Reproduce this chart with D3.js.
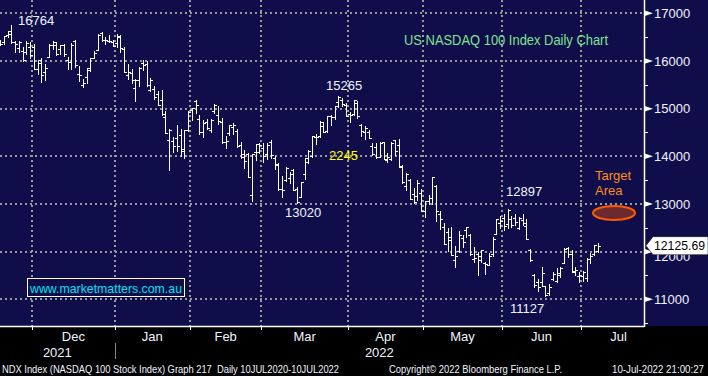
<!DOCTYPE html>
<html>
<head>
<meta charset="utf-8">
<title>US NASDAQ 100 Index Daily Chart</title>
<style>
  body { margin: 0; background: #000; }
  svg { display: block; }
  text { font-family: "Liberation Sans", Arial, sans-serif; }
</style>
</head>
<body>
<svg width="708" height="376"></svg>
<script src="https://cdn.jsdelivr.net/npm/d3@7"></script>
<script>
// trading calendar: 16 Nov 2021 .. end of Jul 2022 (data stops 8 Jul)
var firstDay = "2021-11-16", lastDay = "2022-07-29";
var holidays = ["2021-11-25", "2021-12-24", "2022-01-17", "2022-02-21",
                "2022-04-15", "2022-05-30", "2022-06-20", "2022-07-04"];

// daily OHLC (Nov 16 2021 -> Jul 8 2022)
var opens = [
  16290,16380,16400,16540,16620,16390,16280,16200,16180,16290,
  16290,15830,16010,15760,16090,16330,16340,16250,16330,16010,15980,16420,15720,15490,15660,15820,16070,16220,16580,16450,16420,16400,
  16380,16520,16250,15700,15750,15440,15600,15950,15940,15400,15420,15300,15180,14820,14340,14320,14390,14440,14160,14560,
  14970,15170,14780,14500,14720,14550,14940,14860,14720,14290,14490,14620,14530,14240,13990,14050,13180,14080,14100,
  14180,14040,14300,13960,13810,13310,13500,13540,13710,13310,13150,13620,13890,14010,14410,14420,14640,14530,14840,14820,15140,15190,15080,
  14880,14890,15110,14660,14500,14510,14220,14190,13990,14290,13920,13950,14340,14230,13770,13380,13510,13210,13170,13230,
  12850,13060,13120,13380,12790,12510,12410,12250,11830,12020,12280,12450,12340,11840,11940,11900,11760,11720,11940,12370,12600,
  12700,12570,12690,12710,12490,12660,12540,12030,11500,11360,11370,11270,11140,11430,11380,11560,11760,12080,11960,11580,11480,
  11480,11440,11850,11940,12020
];
var highs = [
  16420,16430,16530,16620,16764,16420,16420,16290,16420,16400,
  16360,16030,16060,15930,16350,16410,16390,16340,16360,16090,16370,16440,15900,15630,15860,16060,16210,16560,16610,16510,16540,16450,
  16573,16540,16300,15930,15830,15620,15870,16020,15990,15640,15480,15370,15390,14960,14580,14400,14660,14580,14560,14940,
  15010,15180,14860,14760,14790,14790,15090,15050,14810,14420,14660,14690,14570,14290,14140,14070,14050,14260,14280,
  14280,14270,14340,14000,13860,13580,13780,13680,13730,13360,13470,13960,14130,14430,14460,14740,14710,14850,14870,15050,15265,15230,15120,
  14930,15180,15150,14680,14640,14560,14270,14280,14310,14300,14060,14310,14340,14370,13820,13650,13530,13330,13500,13310,
  13070,13190,13560,13400,12850,12600,12500,12520,12120,12430,12350,12510,12380,12100,11990,12040,11780,11980,12300,12680,12740,
  12800,12897,12740,12800,12730,12780,12680,12060,11530,11420,11680,11280,11320,11580,11660,11680,12070,12100,12040,11680,11570,
  11590,11860,11970,12140,12190
];
var lows = [
  16270,16340,16350,16500,16380,16180,16190,16000,16140,16060,
  15830,15730,15560,15610,16080,16250,16130,16140,16110,15830,15830,15880,15570,15450,15530,15800,16060,16220,16420,16360,16400,16320,
  16300,16180,15770,15620,15540,15170,15480,15810,15470,15380,15200,15070,14870,14480,13723,14080,14110,14000,13960,14540,
  14760,14900,14470,14410,14570,14500,14910,14670,14270,14180,14440,14470,14200,13960,13760,13560,13060,13920,14060,
  13880,13940,13960,13730,13300,13150,13480,13430,13290,13020,13140,13520,13850,13990,14250,14410,14500,14510,14660,14780,15040,15060,14840,
  14710,14870,14800,14420,14360,14380,14030,13960,13980,13940,13870,13930,14030,13770,13440,13300,13100,13010,13080,12850,
  12730,12990,12990,12640,12470,12150,12010,11920,11680,12000,12100,12310,11930,11790,11510,11790,11530,11710,11900,12360,12500,
  12460,12490,12510,12550,12480,12560,12260,11810,11250,11180,11280,11060,11100,11400,11370,11460,11760,11890,11580,11520,11360,
  11380,11390,11760,11930,12000
];
var closes = [
  16363,16360,16517,16573,16393,16348,16406,16025,16383,16135,
  15834,15967,15712,15857,16331,16397,16136,16331,16142,15970,16333,15923,15703,15546,15855,16056,16170,16553,16441,16430,16410,16320,
  16501,16280,15771,15765,15592,15594,15854,15906,15500,15611,15240,15080,14888,14492,14560,14217,14209,14113,14555,14930,
  15005,15077,14501,14698,14604,14769,15080,14736,14291,14317,14652,14656,14212,14040,13901,13563,14043,14251,14237,
  14005,14243,14029,13838,13319,13285,13757,13622,13301,13047,13458,13954,14119,14420,14408,14712,14508,14840,14830,15049,15239,15087,14839,
  14862,15176,14842,14525,14587,14393,14045,13993,14286,13947,13976,14284,14114,13799,13453,13636,13106,13045,13448,12855,
  13061,13118,13559,12853,12695,12162,12306,11937,11907,12358,12206,12508,11945,11877,11835,12030,11745,11911,12257,12681,12643,
  12547,12866,12558,12613,12700,12604,12269,11822,11291,11264,11542,11099,11265,11529,11510,11664,12061,11951,11588,11605,11504,
  11583,11845,11907,12130,12126
];
var lastPrice = 12125.69;

var majorTicks = [11000, 12000, 13000, 14000, 15000, 16000, 17000];
var minorTicks = [10500, 11500, 12500, 13500, 14500, 15500, 16500];
var monthNames = ["Jan","Feb","Mar","Apr","May","Jun","Jul","Aug","Sep","Oct","Nov","Dec"];

// hand-placed price annotations
var peakLabels = [
  { text: "16764", x: 18, y: 20 },
  { text: "15265", x: 326, y: 85 },
  { text: "13020", x: 285, y: 212 },
  { text: "12897", x: 506, y: 191 },
  { text: "11127", x: 510, y: 308 }
];

var W = 708, H = 376, plotR = 644, plotB = 326;
var svg = d3.select("svg");

var fmt = d3.timeFormat("%Y-%m-%d");
var days = d3.timeDay.range(new Date(firstDay + "T00:00"), d3.timeDay.offset(new Date(lastDay + "T00:00"), 1))
  .filter(function(d) { return d.getDay() !== 0 && d.getDay() !== 6 && holidays.indexOf(fmt(d)) < 0; });

var data = closes.map(function(c, i) {
  return { i: i, date: days[i], o: opens[i], h: highs[i], l: lows[i], c: c };
});

// month boundaries (index of first trading day in each month)
var bounds = [];
days.forEach(function(d, i) {
  if (i > 0 && d.getMonth() !== days[i - 1].getMonth()) bounds.push(i);
});
bounds.push(days.length);

var x = d3.scaleLinear().domain([9.5, 155.5]).range([32, 581]);
var y = d3.scaleLinear().domain([10440, 17279]).range([plotB, 0]);

// backgrounds
svg.append("rect").attr("width", W).attr("height", H).attr("fill", "#000");
svg.append("rect").attr("width", W).attr("height", plotB).attr("fill", "#100e4a");

svg.append("clipPath").attr("id", "clip")
  .append("rect").attr("width", plotR).attr("height", plotB);

// grid
var grid = svg.append("g").attr("stroke", "#9a9a9a").attr("stroke-width", 2)
  .attr("stroke-dasharray", "2 3");
grid.selectAll("line.h").data(majorTicks).enter().append("line")
  .attr("x1", 0).attr("x2", plotR)
  .attr("y1", function(d) { return Math.round(y(d)); })
  .attr("y2", function(d) { return Math.round(y(d)); });
grid.selectAll("line.v").data(bounds.slice(0, -1)).enter().append("line")
  .attr("y1", 0).attr("y2", plotB)
  .attr("x1", function(d) { return Math.round(x(d - 0.5)); })
  .attr("x2", function(d) { return Math.round(x(d - 0.5)); });

// OHLC bars
var bars = svg.append("g").attr("clip-path", "url(#clip)")
  .attr("stroke", "#fff").attr("stroke-width", 1).attr("fill", "none");
var bar = bars.selectAll("g").data(data).enter().append("g");
function px(d) { return Math.round(x(d.i)) + 0.5; }
function py(v) { return Math.round(y(v)) + 0.5; }
bar.append("line")
  .attr("x1", px).attr("x2", px)
  .attr("y1", function(d) { return py(d.h) - 0.5; })
  .attr("y2", function(d) { return py(d.l) + 0.5; });
bar.append("line")
  .attr("x1", function(d) { return px(d) - 2.5; }).attr("x2", px)
  .attr("y1", function(d) { return py(d.o); }).attr("y2", function(d) { return py(d.o); });
bar.append("line")
  .attr("x1", px).attr("x2", function(d) { return px(d) + 2.5; })
  .attr("y1", function(d) { return py(d.c); }).attr("y2", function(d) { return py(d.c); });

// axis frame
svg.append("line").attr("x1", plotR + 0.5).attr("x2", plotR + 0.5).attr("y1", 0).attr("y2", plotB + 1)
  .attr("stroke", "#fff").attr("stroke-width", 1.5);
svg.append("line").attr("x1", 0).attr("x2", plotR).attr("y1", plotB + 0.5).attr("y2", plotB + 0.5)
  .attr("stroke", "#fff").attr("stroke-width", 1.5);

// right axis
var ax = svg.append("g");
ax.selectAll("path.tri").data(majorTicks).enter().append("path")
  .attr("fill", "#fff")
  .attr("d", function(d) {
    var yy = y(d);
    return "M" + plotR + "," + (yy - 3) + "L" + (plotR + 9) + "," + yy + "L" + plotR + "," + (yy + 3) + "Z";
  });
ax.selectAll("line.minor").data(minorTicks).enter().append("line")
  .attr("stroke", "#fff")
  .attr("x1", plotR).attr("x2", plotR + 4)
  .attr("y1", function(d) { return Math.round(y(d)) + 0.5; })
  .attr("y2", function(d) { return Math.round(y(d)) + 0.5; });
// the 12000 label sits under the last-price box in the original, only a sliver shows
ax.selectAll("text").data(majorTicks).enter().append("text")
  .attr("x", 654).attr("y", function(d) { return d === 12000 ? y(d) + 5 : y(d); })
  .attr("dy", "0.36em").attr("fill", "#f0f4ff").attr("font-size", 13)
  .text(function(d) { return d; });

// last price box
var ly = y(lastPrice);
svg.append("path").attr("fill", "#fff").attr("stroke", "#000").attr("stroke-width", 0.5)
  .attr("d", "M646," + ly + "L653," + (ly - 9) + "L708," + (ly - 9) + "L708," + (ly + 9) + "L653," + (ly + 9) + "Z");
svg.append("text").attr("x", 654).attr("y", ly).attr("dy", "0.36em")
  .attr("fill", "#000").attr("font-size", 13)
  .attr("textLength", 51).attr("lengthAdjust", "spacingAndGlyphs")
  .text(lastPrice.toFixed(2));

// bottom axis
var bx = svg.append("g");
bx.selectAll("line").data(bounds.slice(0, -1)).enter().append("line")
  .attr("stroke", "#fff")
  .attr("x1", function(d) { return Math.round(x(d - 0.5)) + 0.5; })
  .attr("x2", function(d) { return Math.round(x(d - 0.5)) + 0.5; })
  .attr("y1", plotB).attr("y2", plotB + 4);
bx.selectAll("text").data(d3.pairs(bounds)).enter().append("text")
  .attr("x", function(p) { return (x(p[0] - 0.5) + x(p[1] - 0.5)) / 2; })
  .attr("y", 341).attr("text-anchor", "middle")
  .attr("fill", "#f0f4ff").attr("font-size", 13)
  .text(function(p) { return monthNames[days[p[0]].getMonth()]; });

var janIdx = bounds[1];
svg.append("text").attr("x", x(janIdx - 0.5) / 2).attr("y", 357).attr("text-anchor", "middle")
  .attr("fill", "#f0f4ff").attr("font-size", 13).text("2021");
svg.append("text").attr("x", (x(janIdx - 0.5) + plotR) / 2).attr("y", 357).attr("text-anchor", "middle")
  .attr("fill", "#f0f4ff").attr("font-size", 13).text("2022");
svg.append("line").attr("stroke", "#888")
  .attr("x1", Math.round(x(janIdx - 0.5)) + 0.5).attr("x2", Math.round(x(janIdx - 0.5)) + 0.5)
  .attr("y1", 343).attr("y2", 359);

// footer
var foot = svg.append("g").attr("fill", "#f0f4ff").attr("font-size", 11);
foot.append("text").attr("x", 2).attr("y", 373).attr("textLength", 337).attr("lengthAdjust", "spacingAndGlyphs")
  .text("NDX Index (NASDAQ 100 Stock Index) Graph 217\u00a0 Daily 10JUL2020-10JUL2022");
foot.append("text").attr("x", 389).attr("y", 373).attr("textLength", 173).attr("lengthAdjust", "spacingAndGlyphs")
  .text("Copyright\u00a9 2022 Bloomberg Finance L.P.");
foot.append("text").attr("x", 612).attr("y", 373).attr("textLength", 92).attr("lengthAdjust", "spacingAndGlyphs")
  .text("10-Jul-2022 21:00:27");

// title
svg.append("text").attr("x", 404).attr("y", 40).attr("dy", "0.36em")
  .attr("fill", "#7ee38f").attr("font-size", 14)
  .attr("textLength", 204).attr("lengthAdjust", "spacingAndGlyphs")
  .text("US NASDAQ 100 Index Daily Chart");

// price annotations
svg.selectAll("text.peak").data(peakLabels).enter().append("text")
  .attr("x", function(d) { return d.x; }).attr("y", function(d) { return d.y; })
  .attr("dy", "0.36em").attr("fill", "#f0f4ff").attr("font-size", 13)
  .text(function(d) { return d.text; });
svg.append("text").attr("x", 329).attr("y", 155).attr("dy", "0.36em")
  .attr("fill", "#ffff00").attr("font-size", 13).text("2245");

// target area
svg.append("text").attr("x", 595).attr("y", 175).attr("dy", "0.36em")
  .attr("fill", "#ff8c1a").attr("font-size", 13).text("Target");
svg.append("text").attr("x", 595).attr("y", 190).attr("dy", "0.36em")
  .attr("fill", "#ff8c1a").attr("font-size", 13).text("Area");
svg.append("ellipse").attr("cx", 614).attr("cy", 213).attr("rx", 21).attr("ry", 7)
  .attr("fill", "#6b2a30").attr("stroke", "#ff5a00").attr("stroke-width", 2);

// website box
svg.append("rect").attr("x", 27.5).attr("y", 278.5).attr("width", 157).attr("height", 18)
  .attr("fill", "#100e4a").attr("stroke", "#fff").attr("stroke-width", 1);
svg.append("text").attr("x", 30).attr("y", 288).attr("dy", "0.36em")
  .attr("fill", "#00e0f0").attr("font-size", 13)
  .attr("textLength", 152).attr("lengthAdjust", "spacingAndGlyphs")
  .text("www.marketmatters.com.au");
</script>
</body>
</html>
